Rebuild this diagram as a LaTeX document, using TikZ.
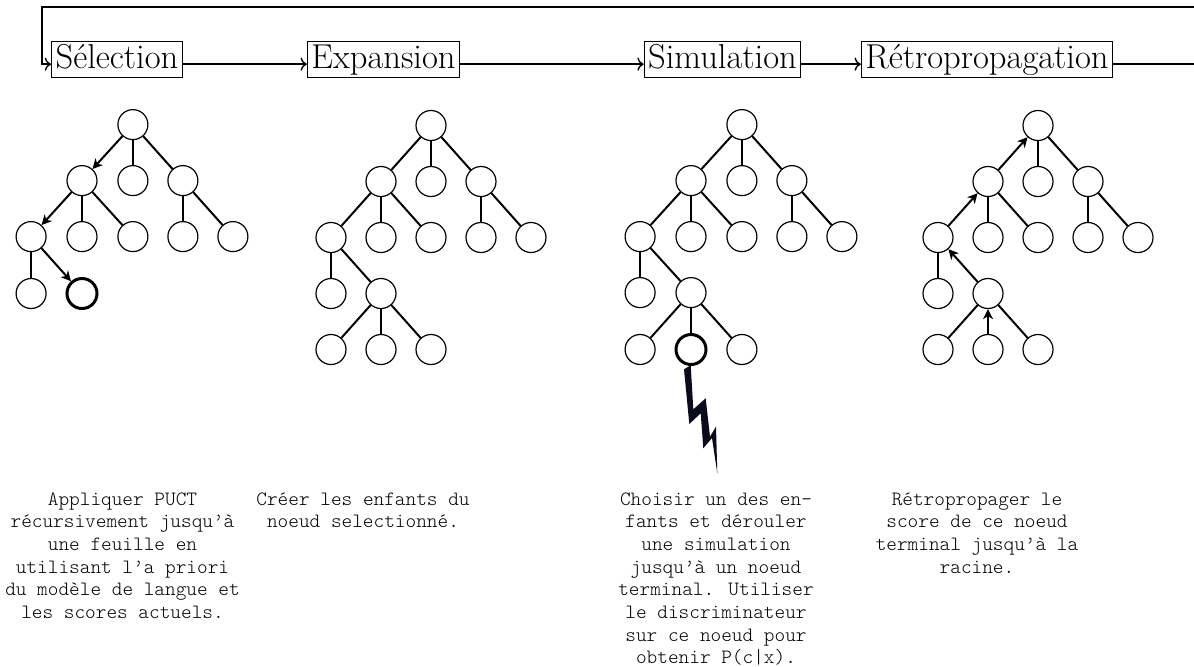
\documentclass[tikz,border=0pt]{standalone}
\usepackage{fontspec}
\usetikzlibrary{matrix}
\usetikzlibrary{arrows.meta}
\definecolor{boltcol}{HTML}{0B0B1C}

\tikzset{
  leaf/.style={circle, draw, line width=0.6pt, minimum size=15pt, inner sep=0pt},
  term/.style={leaf, line width=1.5pt},
  tree/.style={matrix of nodes, ampersand replacement=\&, column sep=9.4pt, row sep=12.4pt, nodes={leaf}},
  stage/.style={draw, line width=0.5pt, font=\LARGE, inner xsep=2pt, inner ysep=1pt, text height=12.75pt, text depth=3.25pt, anchor=base},
  flow/.style={->, line width=0.7pt},
  caption/.style={font=\ttfamily\fontseries{l}\fontsize{10.15}{11.35}\selectfont, align=center, anchor=north, inner sep=0pt},
  link/.style={line width=1pt},
  walk/.style={link, -{Stealth[length=5pt,width=5pt,inset=1.5pt]}},
}

\begin{document}
\begin{tikzpicture}[x=0.5pt,y=-0.5pt]
\useasboundingbox (0,0) rectangle (1194,666);

% stages
\node[stage] (sel) at (117,68.5) {Sélection};
\node[stage] (exp) at (383.5,68.5) {Expansion};
\node[stage] (sim) at (722.5,68.5) {Simulation};
\node[stage] (ret) at (987,68.5) {Rétropropagation};

\draw[flow] (sel.mid east) -- (exp.mid west);
\draw[flow] (exp.mid east) -- (sim.mid west);
\draw[flow] (sim.mid east) -- (ret.mid west);
\coordinate (loopR) at (1200,7);
\coordinate (loopL) at (42,7);
\draw[flow] (ret.mid east) -| (loopR) -- (loopL) |- (sel.mid west);

% trees
\matrix (tsel) [tree] at (132,209.5) {
\& \& {} \& \& \\
\& {} \& {} \& {} \& \\
{} \& {} \& {} \& {} \& {} \\
{} \& |[term]| {} \& \& \& \\};

\matrix (texp) [tree] at (431,237.5) {
\& \& {} \& \& \\
\& {} \& {} \& {} \& \\
{} \& {} \& {} \& {} \& {} \\
{} \& {} \& \& \& \\
{} \& {} \& {} \& \& \\};

\matrix (tsim) [tree] at (741,237.5) {
\& \& {} \& \& \\
\& {} \& {} \& {} \& \\
{} \& {} \& {} \& {} \& {} \\
{} \& {} \& \& \& \\
{} \& |[term]| {} \& {} \& \& \\};

\matrix (tret) [tree] at (1038,237.5) {
\& \& {} \& \& \\
\& {} \& {} \& {} \& \\
{} \& {} \& {} \& {} \& {} \\
{} \& {} \& \& \& \\
{} \& {} \& {} \& \& \\};

\foreach \i/\j in {1-3/2-3, 1-3/2-4, 2-2/3-2, 2-2/3-3, 2-4/3-4, 2-4/3-5, 3-1/4-1}
    \draw[link] (tsel-\i) -- (tsel-\j);
\foreach \i/\j in {1-3/2-2, 2-2/3-1, 3-1/4-2}
    \draw[walk] (tsel-\i) -- (tsel-\j);

\foreach \t in {texp, tsim}
  \foreach \i/\j in {1-3/2-2, 1-3/2-3, 1-3/2-4, 2-2/3-1, 2-2/3-2, 2-2/3-3, 2-4/3-4, 2-4/3-5, 3-1/4-1, 3-1/4-2, 4-2/5-1, 4-2/5-2, 4-2/5-3}
    \draw[link] (\t-\i) -- (\t-\j);

\foreach \i/\j in {1-3/2-3, 1-3/2-4, 2-2/3-2, 2-2/3-3, 2-4/3-4, 2-4/3-5, 3-1/4-1, 4-2/5-1, 4-2/5-3}
    \draw[link] (tret-\i) -- (tret-\j);
\foreach \i/\j in {5-2/4-2, 4-2/3-1, 3-1/2-2, 2-2/1-3}
    \draw[walk] (tret-\i) -- (tret-\j);

% rollout
\fill[boltcol] (684,369.3) -- (690.7,365.3) -- (693.3,409.3) -- (705.7,398.3) -- (710,436.7) -- (716,426.7) -- (717.3,473.3) -- (712,438) -- (703.3,448.3) -- (700.7,413.3) -- (689.3,424) -- cycle;

% captions
\node[caption] (csel) at (122.5,492) {Appliquer PUCT\\récursivement jusqu’à\\une feuille en\\utilisant l’a priori\\du modèle de langue et\\les scores actuels.};
\node[caption] (cexp) at (363,492) {Créer les enfants du\\noeud selectionné.};
\node[caption] (csim) at (716,492) {Choisir un des en-\\fants et dérouler\\une simulation\\jusqu’à un noeud\\terminal. Utiliser\\le discriminateur\\sur ce noeud pour\\obtenir P(c|x).};
\node[caption] (cret) at (977,492) {Rétropropager le\\score de ce noeud\\terminal jusqu’à la\\racine.};
%
\end{tikzpicture}
\end{document}
